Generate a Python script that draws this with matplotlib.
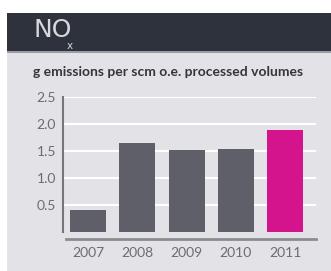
import matplotlib.pyplot as plt
from matplotlib.patches import Rectangle

plt.rcParams['font.family'] = ['Lato', 'DejaVu Sans']

years = ['2007', '2008', '2009', '2010', '2011']
nox = [0.40, 1.64, 1.51, 1.54, 1.88]
yticks = [0.5, 1.0, 1.5, 2.0, 2.5]
bar_colors = ['#5e5f68', '#5e5f68', '#5e5f68', '#5e5f68', '#d4148c']

W, H = 331, 271
fig = plt.figure(figsize=(W / 100, H / 100), dpi=100)
fig.patch.set_facecolor('white')


def px(x, y, w, h):
    # pixel box (top-left origin) -> figure fraction
    return (x / W, 1 - (y + h) / H, w / W, h / H)


# panel background, header band and divider
for (x, y, w, h), c in [((7, 53, 324, 218), '#e3e3e7'),
                        ((7, 13, 324, 38), '#2e323d'),
                        ((7, 51, 324, 2), '#9b9da4')]:
    x0, y0, w0, h0 = px(x, y, w, h)
    fig.patches.append(Rectangle((x0, y0), w0, h0, transform=fig.transFigure,
                                 facecolor=c, edgecolor='none', zorder=-5))

fig.text(34 / W, 1 - 30 / H, 'NO', color='#d8d9dc', fontsize=18,
         family=['Liberation Sans Narrow', 'DejaVu Sans'], va='center', ha='left')
fig.text(67 / W, 1 - 46 / H, 'x', color='#d8d9dc', fontsize=7.5,
         family=['Liberation Sans Narrow', 'DejaVu Sans'], va='center', ha='left')
fig.text(33 / W, 1 - 72 / H, 'g emissions per scm o.e. processed volumes',
         color='#34363c', fontsize=10, fontweight='bold', va='center', ha='left')

ax = fig.add_axes(px(63, 97, 253, 142))
ax.set_zorder(2)
ax.set_facecolor('none')
ax.bar(range(len(years)), nox, width=0.73, color=bar_colors, zorder=3)
ax.set_xlim(-0.51, 4.63)
ax.set_ylim(-0.13, 2.5)
ax.set_yticks(yticks)
ax.set_yticklabels([f'{v:.1f}' for v in yticks])
ax.set_xticks(range(len(years)))
ax.set_xticklabels(years)
for v in yticks:
    ax.axhline(v, color='white', lw=1.5, zorder=1)

for s in ['top', 'right']:
    ax.spines[s].set_visible(False)
ax.spines['left'].set_bounds(0, 2.5)
ax.spines['left'].set_color('#74767d')
ax.spines['left'].set_linewidth(1.5)
ax.spines['bottom'].set_color('#8a8c92')
ax.spines['bottom'].set_linewidth(2)
ax.spines['bottom'].set_bounds(-0.45, 4.63)
ax.tick_params(length=0, colors='#6b6c72', labelsize=10)
ax.tick_params(axis='y', pad=5)
ax.tick_params(axis='x', pad=6)

fig.savefig('out.png', dpi=100)
